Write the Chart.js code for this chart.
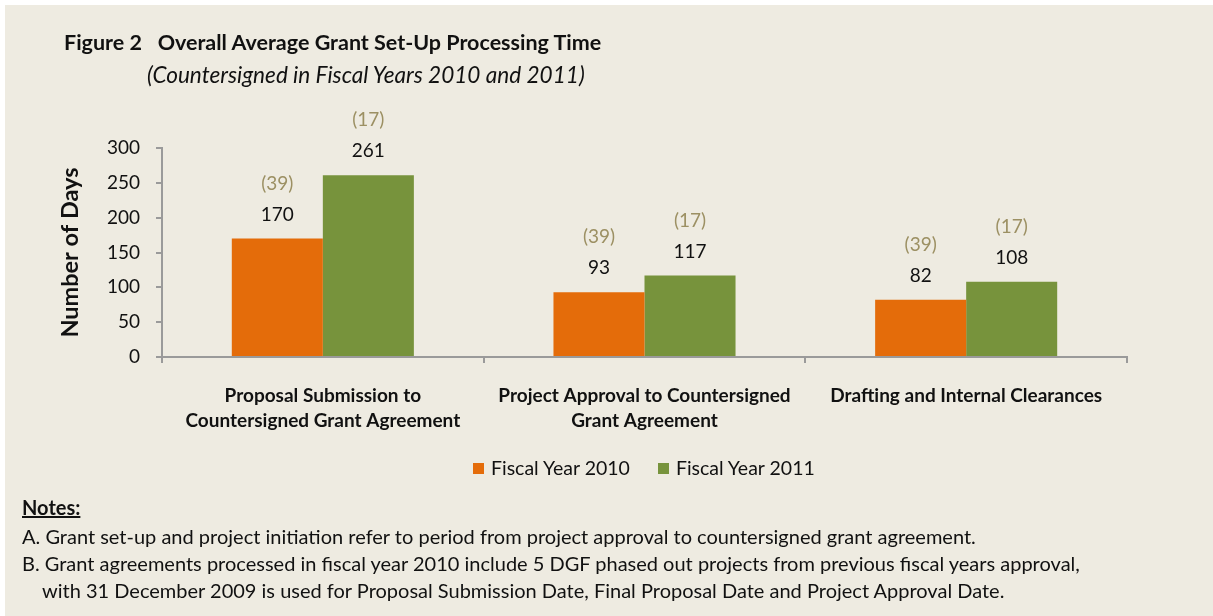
<!DOCTYPE html>
<html>
<head>
<meta charset="utf-8">
<script src="https://cdn.jsdelivr.net/npm/chart.js@4.4.1/dist/chart.umd.min.js"></script>
<style>
  html, body { margin:0; padding:0; background:#ffffff; }
  body { width:1213px; height:616px; position:relative; overflow:hidden; font-family: Lato, "Liberation Sans", sans-serif; color:#111; }
  #frame { position:absolute; left:5px; top:5px; width:1208px; height:611px; background:#EEEBE1; }
  #c { position:absolute; left:0; top:0; }
  .t { position:absolute; white-space:nowrap; }
  #title { left:64px; top:28px; font-size:21.5px; font-weight:bold; line-height:28px; }
  #subtitle { left:147px; top:61px; font-size:22.6px; font-style:italic; line-height:28px; }
  #legend { left:473px; top:455px; font-size:19.5px; line-height:26px; display:flex; align-items:center; }
  .sw { display:inline-block; width:11px; height:11px; margin-right:7px; }
  .n { left:22px; font-size:20px; line-height:26px; }
  .h { font-weight:bold; text-decoration:underline; }
</style>
</head>
<body>
<div id="frame"></div>
<canvas id="c" width="1213" height="616"></canvas>
<div class="t" id="title">Figure 2&nbsp;&nbsp;&nbsp;Overall Average Grant Set-Up Processing Time</div>
<div class="t" id="subtitle">(Countersigned in Fiscal Years 2010 and 2011)</div>
<div class="t" id="legend"></div>
<div class="t n h" style="top:494px">Notes:</div>
<div class="t n" style="top:523px">A. Grant set-up and project initiation refer to period from project approval to countersigned grant agreement.</div>
<div class="t n" style="top:550px">B. Grant agreements processed in fiscal year 2010 include 5 DGF phased out projects from previous fiscal years approval,</div>
<div class="t n" style="top:577px; left:42px">with 31 December 2009 is used for Proposal Submission Date, Final Proposal Date and Project Approval Date.</div>
<script>
const categories = [
  ["Proposal Submission to", "Countersigned Grant Agreement"],
  ["Project Approval to Countersigned", "Grant Agreement"],
  ["Drafting and Internal Clearances"]
];
const seriesNames = ["Fiscal Year 2010", "Fiscal Year 2011"];
const fy2010 = [170, 93, 82];
const fy2011 = [261, 117, 108];
const count2010 = ["(39)", "(39)", "(39)"];
const count2011 = ["(17)", "(17)", "(17)"];
const yTicks = [0, 50, 100, 150, 200, 250, 300];

const colors = ["#E46C0A", "#77933C"];
const countColor = "#9C9063";
const FONT = 'Lato, "Liberation Sans", sans-serif';

const legendEl = document.getElementById('legend');
seriesNames.forEach((n, i) => {
  const s = document.createElement('span');
  s.style.display = 'inline-flex'; s.style.alignItems = 'center';
  s.style.marginRight = i === 0 ? '28px' : '0';
  s.innerHTML = '<span class="sw" style="background:' + colors[i] + '"></span>' + n;
  legendEl.appendChild(s);
});

const labelPlugin = {
  id: 'barLabels',
  afterDatasetsDraw(chart) {
    const ctx = chart.ctx;
    ctx.save();
    ctx.textAlign = 'center';
    ctx.textBaseline = 'middle';
    ctx.font = '19px ' + FONT;
    const counts = [count2010, count2011];
    chart.data.datasets.forEach((ds, di) => {
      const meta = chart.getDatasetMeta(di);
      meta.data.forEach((bar, i) => {
        ctx.fillStyle = '#111';
        ctx.fillText(String(ds.data[i]), bar.x, bar.y - 24);
        ctx.fillStyle = countColor;
        ctx.fillText(counts[di][i], bar.x, bar.y - 55);
      });
    });
    ctx.restore();
  }
};

new Chart(document.getElementById('c'), {
  type: 'bar',
  data: {
    labels: categories,
    datasets: [
      { label: seriesNames[0], data: fy2010, backgroundColor: colors[0] },
      { label: seriesNames[1], data: fy2011, backgroundColor: colors[1] }
    ]
  },
  options: {
    responsive: false,
    animation: false,
    devicePixelRatio: 1,
    layout: { padding: { left: 50, top: 148, right: 86, bottom: 150 } },
    plugins: { legend: { display: false }, tooltip: { enabled: false } },
    datasets: { bar: { categoryPercentage: 0.566, barPercentage: 1.0 } },
    scales: {
      x: {
        grid: { drawOnChartArea: false, drawTicks: true, tickLength: 6, color: '#9A9A9A', lineWidth: 2, offset: true },
        border: { color: '#9A9A9A', width: 2 },
        ticks: {
          color: '#111', maxRotation: 0, minRotation: 0, autoSkip: false, padding: 20,
          font: { family: FONT, size: 19, weight: 'bold', lineHeight: 25 / 19 }
        },
        afterFit(scale) { scale.height = 109; }
      },
      y: {
        min: 0, max: 300,
        afterBuildTicks(scale) { scale.ticks = yTicks.map(v => ({ value: v })); },
        grid: { drawOnChartArea: false, drawTicks: true, tickLength: 6, color: '#9A9A9A', lineWidth: 2 },
        border: { color: '#9A9A9A', width: 2 },
        ticks: { color: '#111', padding: 16, font: { family: FONT, size: 19 } },
        title: { display: true, text: 'Number of Days', color: '#111', padding: { top: 6, bottom: 0 },
                 font: { family: FONT, size: 23.5, weight: 'bold' } },
        afterFit(scale) { scale.width = 112; }
      }
    }
  },
  plugins: [labelPlugin]
});
</script>
</body>
</html>
